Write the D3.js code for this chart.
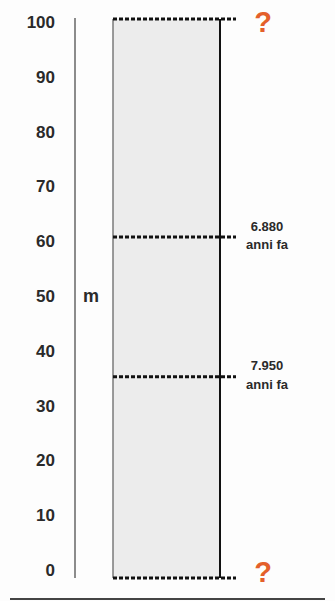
<!DOCTYPE html>
<html>
<head>
<meta charset="utf-8">
<script src="https://cdn.jsdelivr.net/npm/d3@7"></script>
<style>
  body { margin: 0; background: #fdfdfd; }
  svg { display: block; font-family: "Liberation Sans", Arial, sans-serif; }
</style>
</head>
<body>
<svg width="335" height="601"></svg>
<script>
// depth in metres, 0 - 100
var depthTicks = [0, 10, 20, 30, 40, 50, 60, 70, 80, 90, 100];
var coreRange = [0, 100];
var layerDepths = [61, 36];
var layerYears = ["6.880", "7.950"];
var layerUnit = "anni fa";
var unknownDepths = [100, 0];

var svg = d3.select("svg");

// the box / lines and the printed tick labels sit on slightly different spans
var y = d3.scaleLinear().domain([0, 100]).range([578, 19]);
var yLabel = d3.scaleLinear().domain([0, 100]).range([570, 22]);

var boxLeft = 113, boxRight = 220, dotEnd = 236;

// tick labels
var axis = d3.axisLeft(yLabel).tickValues(depthTicks).tickSize(0).tickPadding(0);
var gAxis = svg.append("g").attr("transform", "translate(55,0)").call(axis);
gAxis.select(".domain").remove();
gAxis.selectAll("text")
    .attr("font-family", "Liberation Sans, Arial, sans-serif")
    .attr("font-size", "17px")
    .attr("font-weight", "bold")
    .attr("fill", "#2a2a2a");

// vertical axis line
svg.append("line")
    .attr("x1", 75).attr("x2", 75)
    .attr("y1", y(coreRange[1]) - 1).attr("y2", y(coreRange[0]))
    .attr("stroke", "#666")
    .attr("stroke-width", 1.5);

svg.append("text")
    .attr("x", 91).attr("y", yLabel(50))
    .attr("dy", "0.35em")
    .attr("text-anchor", "middle")
    .attr("font-size", "18px")
    .attr("font-weight", "bold")
    .attr("fill", "#2a2a2a")
    .text("m");

// core box
svg.append("rect")
    .attr("x", boxLeft).attr("y", y(coreRange[1]))
    .attr("width", boxRight - boxLeft)
    .attr("height", y(coreRange[0]) - y(coreRange[1]))
    .attr("fill", "#ececec");
svg.append("line")
    .attr("x1", boxLeft).attr("x2", boxLeft)
    .attr("y1", y(coreRange[1])).attr("y2", y(coreRange[0]))
    .attr("stroke", "#7a7a7a").attr("stroke-width", 1.5);
svg.append("line")
    .attr("x1", boxRight).attr("x2", boxRight)
    .attr("y1", y(coreRange[1])).attr("y2", y(coreRange[0]))
    .attr("stroke", "#111").attr("stroke-width", 2);

// dotted horizons
var horizons = layerDepths.concat(unknownDepths);
svg.selectAll(".horizon")
    .data(horizons)
    .enter().append("line")
    .attr("class", "horizon")
    .attr("x1", boxLeft).attr("x2", dotEnd)
    .attr("y1", function(d) { return y(d); })
    .attr("y2", function(d) { return y(d); })
    .attr("stroke", "#111")
    .attr("stroke-width", 3)
    .attr("stroke-dasharray", "4,2");

// year labels
var lab = svg.selectAll(".yr")
    .data(layerDepths)
    .enter().append("text")
    .attr("class", "yr")
    .attr("x", 267)
    .attr("y", function(d) { return y(d) - 11; })
    .attr("text-anchor", "middle")
    .attr("font-size", "13px")
    .attr("font-weight", "bold")
    .attr("fill", "#2a2a2a");
lab.append("tspan")
    .attr("x", 267)
    .attr("dy", "0.35em")
    .text(function(d, i) { return layerYears[i]; });
lab.append("tspan")
    .attr("x", 267)
    .attr("dy", "1.4em")
    .text(layerUnit);

// question marks
svg.selectAll(".q")
    .data(unknownDepths)
    .enter().append("text")
    .attr("class", "q")
    .attr("x", 263)
    .attr("y", function(d) { return y(d) + (d === 0 ? -6 : 3); })
    .attr("dy", "0.35em")
    .attr("text-anchor", "middle")
    .attr("font-size", "29px")
    .attr("font-weight", "bold")
    .attr("fill", "#e4602b")
    .text("?");

// bottom rule
svg.append("line")
    .attr("x1", 10).attr("x2", 325)
    .attr("y1", 599).attr("y2", 599)
    .attr("stroke", "#444").attr("stroke-width", 2);
</script>
</body>
</html>
